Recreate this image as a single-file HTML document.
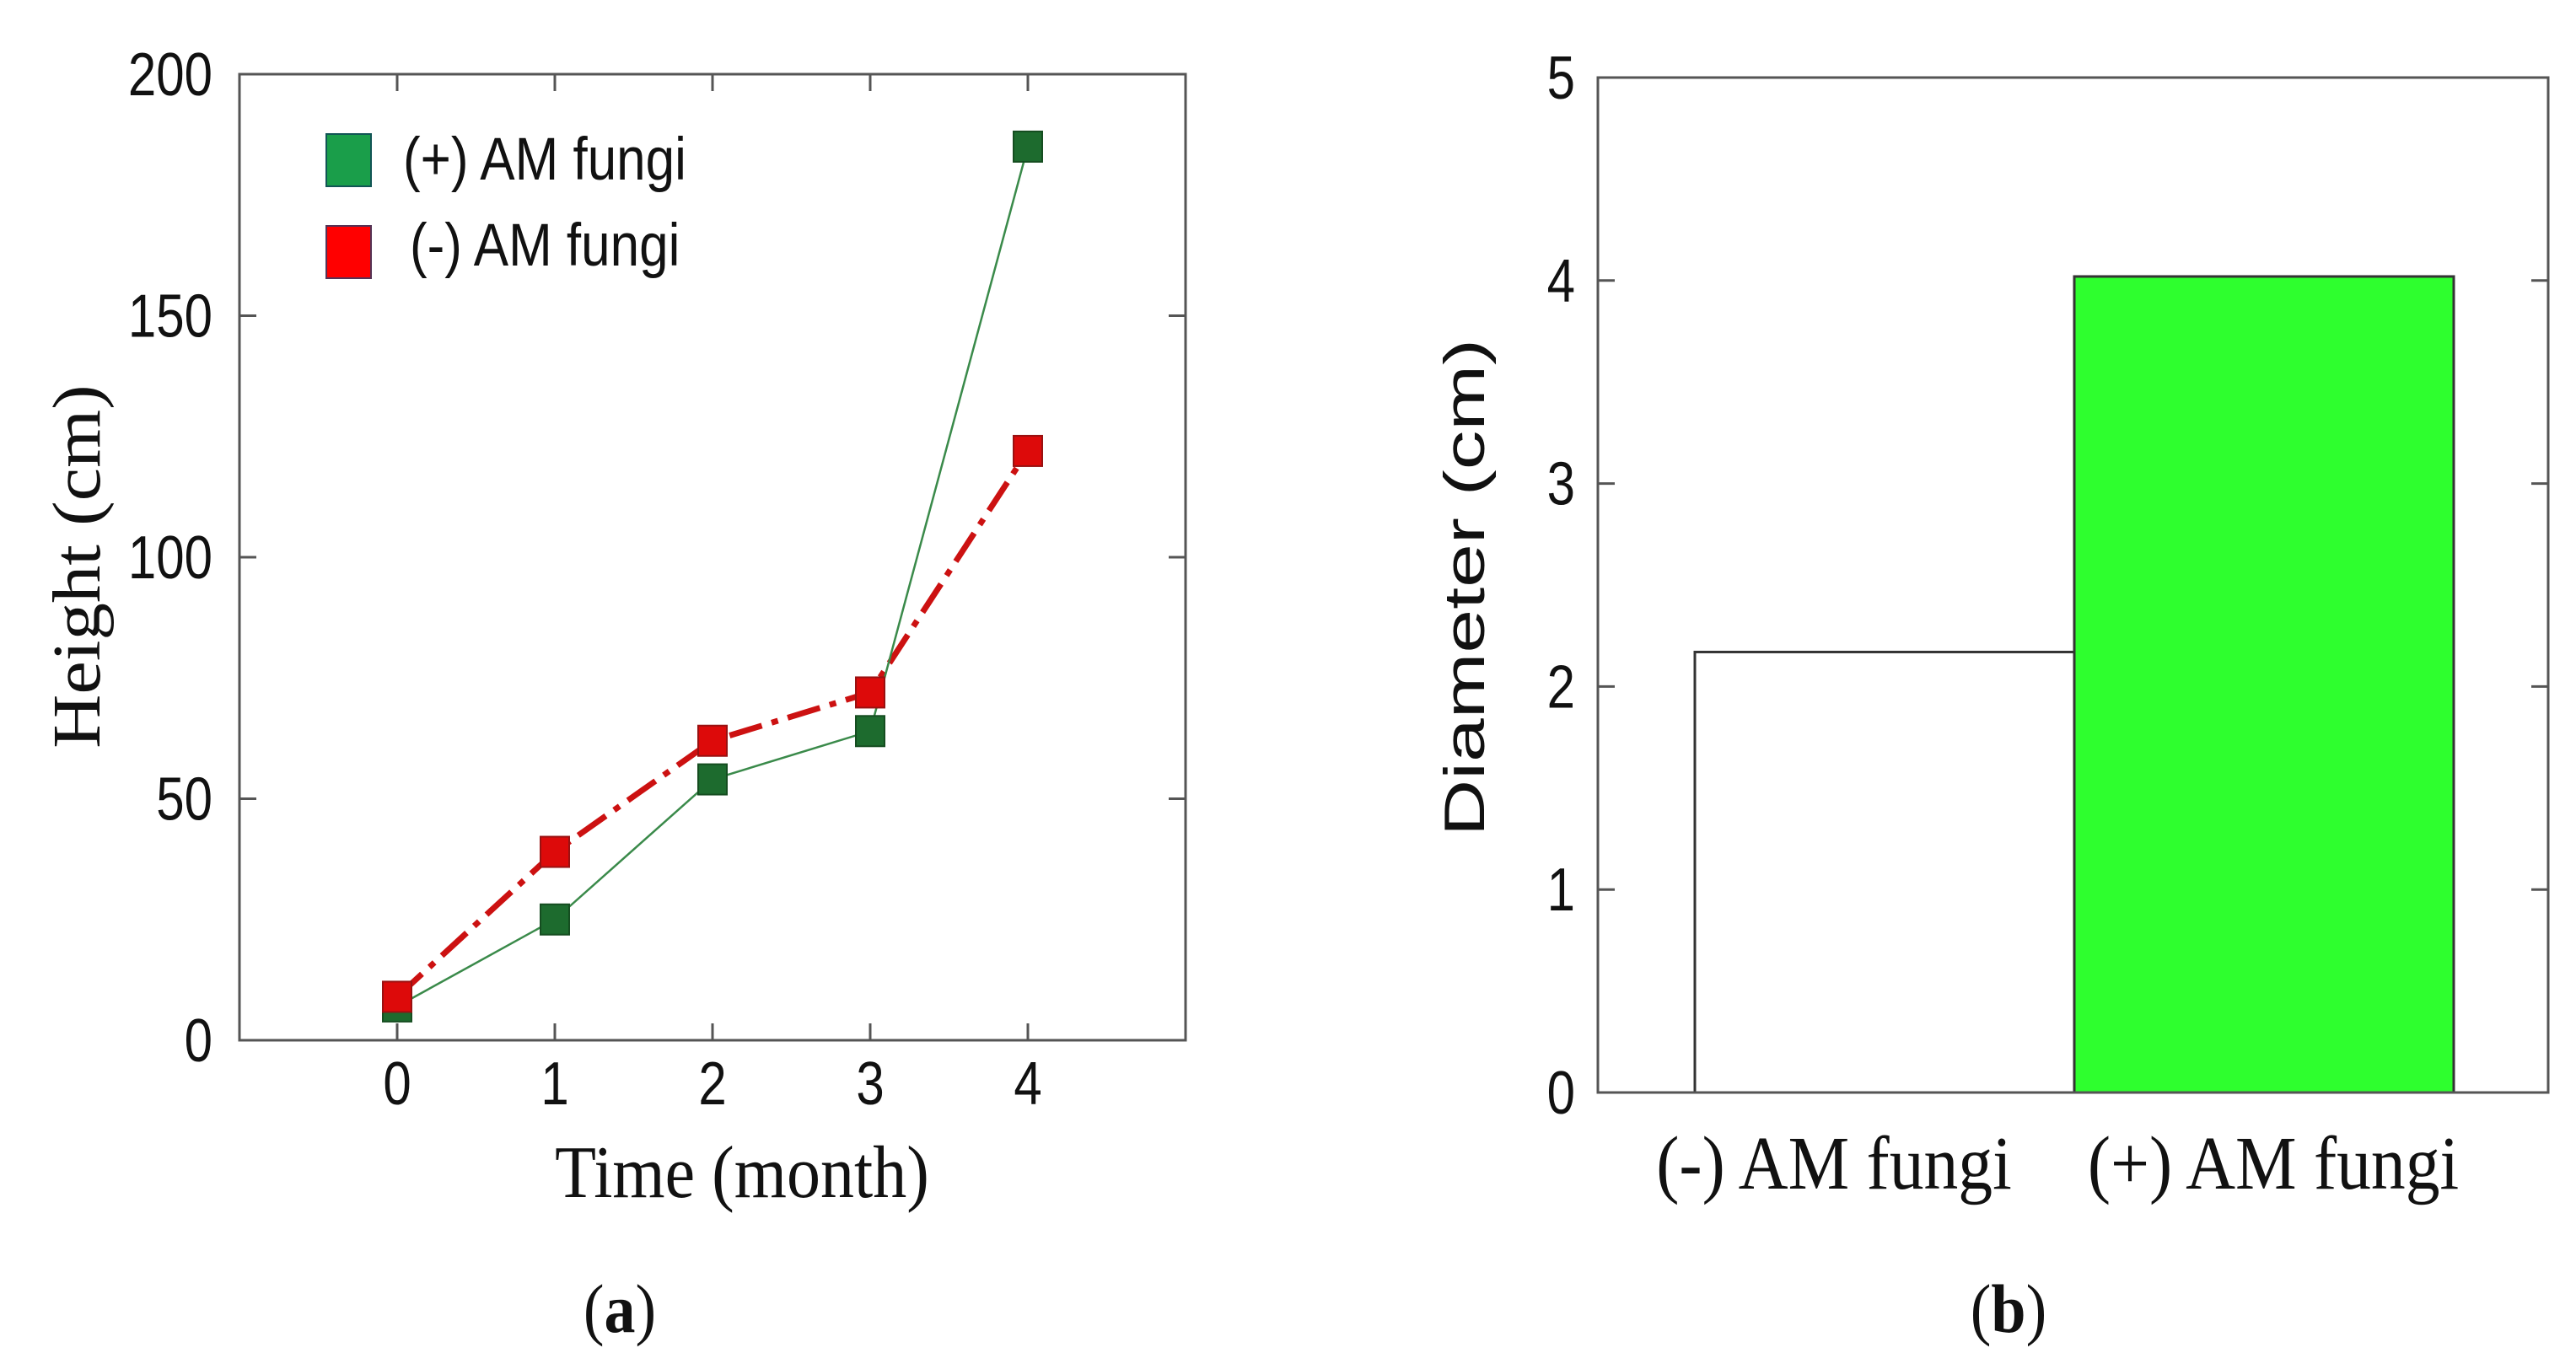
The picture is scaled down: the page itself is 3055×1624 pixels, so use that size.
<!DOCTYPE html>
<html><head><meta charset="utf-8"><style>html,body{margin:0;padding:0;background:#fff}svg{display:block}</style></head>
<body>
<svg id="c" width="3055" height="1624" viewBox="0 0 3055 1624" xmlns="http://www.w3.org/2000/svg"></svg>
<script>
const months = [0,1,2,3,4];
const plusHeight = [7,25,54,64,185];
const minusHeight = [9,39,62,72,122];
const yTicksA = [0,50,100,150,200];
const barCats = ["(-) AM fungi","(+) AM fungi"];
const barVals = [2.17,4.02];
const yTicksB = [0,1,2,3,4,5];

const svg=document.getElementById('c');
const NS='http://www.w3.org/2000/svg';
function mk(tag,attrs,parent,text){const e=document.createElementNS(NS,tag);for(const k in attrs)e.setAttribute(k,attrs[k]);if(text!==undefined)e.textContent=text;(parent||svg).appendChild(e);return e;}
function txt(x,y,s,opts,parent,sx,sy,rot){
  const tr='translate('+x+','+y+')'+(rot?' rotate('+rot+')':'')+' scale('+(sx||1)+','+(sy||1)+')';
  const a=Object.assign({x:0,y:0,transform:tr,fill:'#111'},opts);
  return mk('text',a,parent,s);
}
const SANS='Liberation Sans, sans-serif', SERIF='Liberation Serif, serif';

// Panel a
const A={l:284,r:1406,t:88,b:1234,x0:-1,x1:5,y0:0,y1:200};
const ax=v=>A.l+(v-A.x0)/(A.x1-A.x0)*(A.r-A.l);
const ay=v=>A.b-(v-A.y0)/(A.y1-A.y0)*(A.b-A.t);
const ga=mk('g',{});


yTicksA.forEach(t=>{
  mk('line',{x1:A.l,x2:A.l+20,y1:ay(t),y2:ay(t),stroke:'#555','stroke-width':3},ga);
  mk('line',{x1:A.r,x2:A.r-20,y1:ay(t),y2:ay(t),stroke:'#555','stroke-width':3},ga);
  const tx=txt(252,ay(t)+25,String(t),{'text-anchor':'end','font-family':SANS,'font-size':60},ga,1,1.2);
  
});
months.forEach(m=>{
  mk('line',{x1:ax(m),x2:ax(m),y1:A.b,y2:A.b-20,stroke:'#555','stroke-width':3},ga);
  mk('line',{x1:ax(m),x2:ax(m),y1:A.t,y2:A.t+20,stroke:'#555','stroke-width':3},ga);
  const tx=txt(ax(m),1310,String(m),{'text-anchor':'middle','font-family':SANS,'font-size':60},ga,1,1.2);
  
});
const fa=mk('rect',{x:A.l,y:A.t,width:A.r-A.l,height:A.b-A.t,fill:'none',stroke:'#555','stroke-width':3},ga);

const lr=mk('polyline',{points:months.map((m,i)=>ax(m)+','+ay(minusHeight[i])).join(' '),fill:'none',stroke:'#cc1111','stroke-width':7,'stroke-dasharray':'40 12 8 12'},ga);

const lg=mk('polyline',{points:months.map((m,i)=>ax(m)+','+ay(plusHeight[i])).join(' '),fill:'none',stroke:'#3a8a4a','stroke-width':2.5},ga);

months.forEach((m,i)=>{
  const p=mk('rect',{x:ax(m)-17,y:ay(plusHeight[i])-18,width:34,height:36,fill:'#1d6b2e',stroke:'#154d20','stroke-width':2},ga);
  
});
months.forEach((m,i)=>{
  const p=mk('rect',{x:ax(m)-17,y:ay(minusHeight[i])-18,width:34,height:36,fill:'#dd0a0a',stroke:'#991111','stroke-width':2},ga);
  
});
// legend
const lg1=mk('rect',{x:387,y:159,width:53,height:62,fill:'#1a9e4a',stroke:'#155',"stroke-width":2},ga);

const lt1=txt(478,213,'(+) AM fungi',{'font-family':SANS,'font-size':62},ga,1,1.15);

const lg2=mk('rect',{x:387,y:268,width:53,height:62,fill:'#ff0000',stroke:'#535',"stroke-width":2},ga);

const lt2=txt(486,315,'(-) AM fungi',{'font-family':SANS,'font-size':62},ga,1,1.15);

const yt=txt(118,672,'Height (cm)',{'text-anchor':'middle','font-family':SERIF,'font-size':80},ga,1.11,1,-90);

const xt=txt(880,1420,'Time (month)',{'text-anchor':'middle','font-family':SERIF,'font-size':80},ga,1,1.1);

const ca=txt(735,1580,'',{'text-anchor':'middle','font-family':SERIF,'font-size':74},ga,1,1.1);

ca.innerHTML='(<tspan font-weight="bold">a</tspan>)';

// Panel b
const B={l:1895,r:3022,t:92,b:1296,y0:0,y1:5};
const by=v=>B.b-(v-B.y0)/(B.y1-B.y0)*(B.b-B.t);
const bandL=2010,bandW=450;
const labelX=[2175,2696];
const gb=mk('g',{});


const bColors=['#ffffff','#2eff2e'];
barVals.forEach((v,i)=>{
  const r=mk('rect',{x:bandL+i*bandW,y:by(v),width:bandW,height:B.b-by(v),fill:bColors[i],stroke:'#333','stroke-width':3},gb);
  
  const tx=txt(labelX[i],1410,barCats[i],{'text-anchor':'middle','font-family':SERIF,'font-size':80},gb,1.02,1.12);
  
});
yTicksB.forEach(t=>{
  mk('line',{x1:B.l,x2:B.l+20,y1:by(t),y2:by(t),stroke:'#555','stroke-width':3},gb);
  mk('line',{x1:B.r,x2:B.r-20,y1:by(t),y2:by(t),stroke:'#555','stroke-width':3},gb);
  const tx=txt(1868,by(t)+25,String(t),{'text-anchor':'end','font-family':SANS,'font-size':60},gb,1,1.2);
  
});
const fb=mk('rect',{x:B.l,y:B.t,width:B.r-B.l,height:B.b-B.t,fill:'none',stroke:'#555','stroke-width':3},gb);

const ybt=txt(1760,697,'Diameter (cm)',{'text-anchor':'middle','font-family':SANS,'font-size':68},gb,1.37,1,-90);

const cb=txt(2382,1580,'',{'text-anchor':'middle','font-family':SERIF,'font-size':74},gb,1,1.1);

cb.innerHTML='(<tspan font-weight="bold">b</tspan>)';
</script>
</body></html>
